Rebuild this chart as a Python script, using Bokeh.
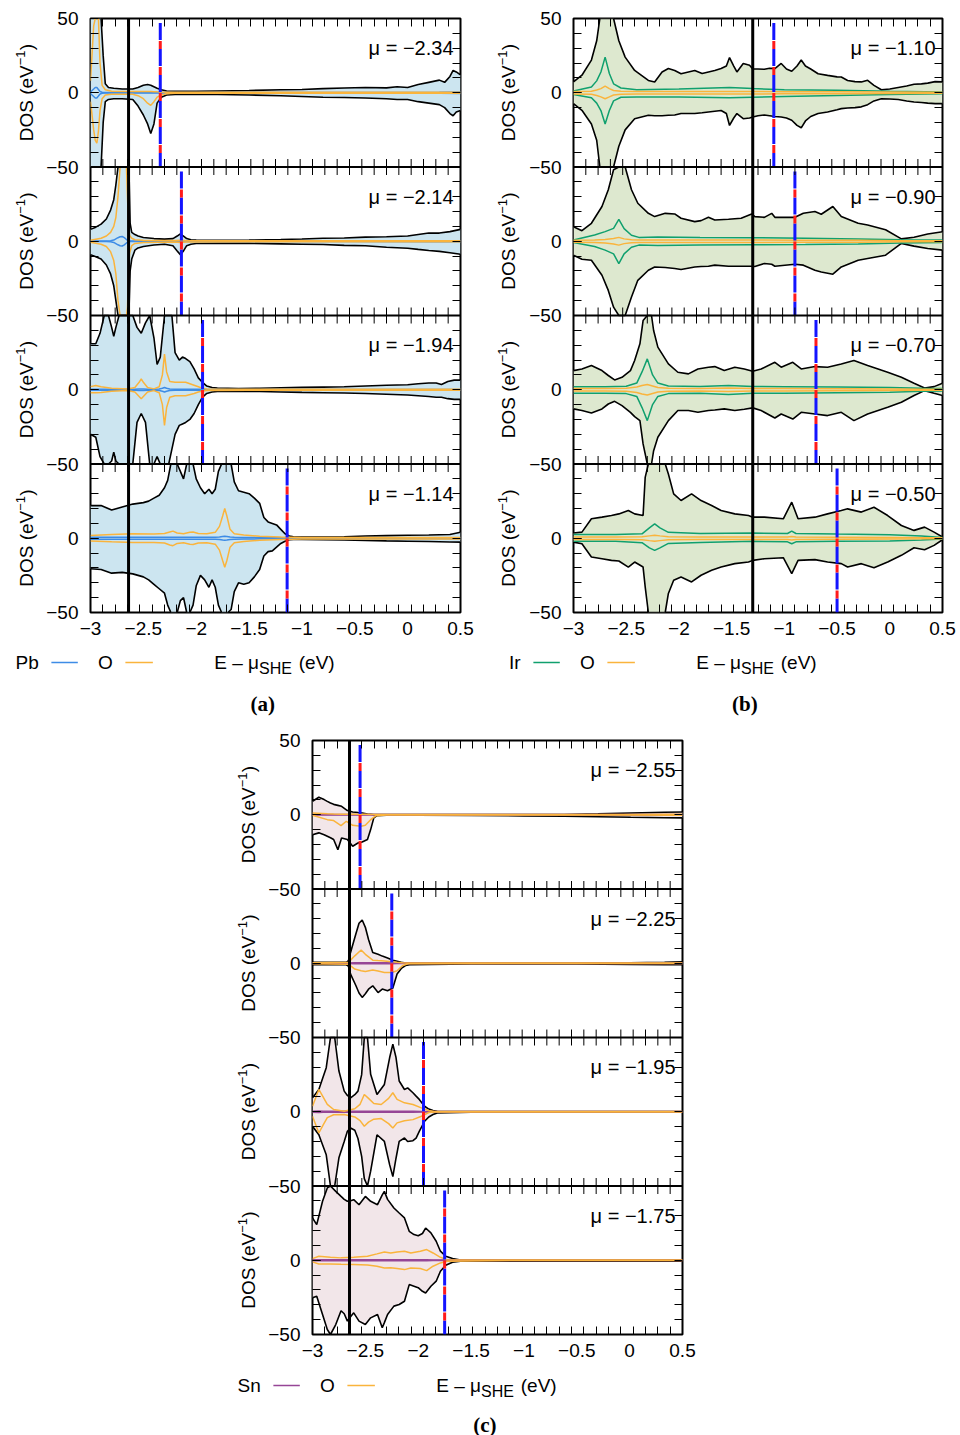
import numpy as np
from math import pi
from bokeh.plotting import figure
from bokeh.models import Range1d, LinearAxis, FixedTicker, Label, Span, Spacer
from bokeh.layouts import row, column
from bokeh.core.properties import value
from bokeh.embed import file_html
from bokeh.resources import INLINE

# ============================ DATA ============================
X_TICKS = [-3.0, -2.5, -2.0, -1.5, -1.0, -0.5, 0.0, 0.5]
X_TICK_LABELS = ["−3", "−2.5", "−2", "−1.5", "−1", "−0.5", "0", "0.5"]

MU_A = [-2.34, -2.14, -1.94, -1.14]
MU_B = [-1.10, -0.90, -0.70, -0.50]
MU_C = [-2.55, -2.25, -1.95, -1.75]
VLINE_A = -2.64
VLINE_B = -1.30
VLINE_C = -2.65

# ---------- (a) Pb ----------
A1_TX = [-3.00, -2.96, -2.92, -2.90, -2.88, -2.86, -2.83, -2.78, -2.70, -2.60, -2.55, -2.50, -2.46, -2.43, -2.40, -2.37, -2.33, -2.28, -2.20, -2.00, -1.80, -1.50, -1.20, -1.00, -0.80, -0.60, -0.40, -0.20, -0.10, 0.00, 0.10, 0.20, 0.30, 0.35, 0.40, 0.43, 0.46, 0.50]
A1_TUP = [60, 60, 60, 60, 25, 6, 3.5, 3, 2.5, 2.5, 3.5, 5, 5.5, 5, 4, 3, 2, 1.2, 1, 1, 1.2, 1.5, 2, 2.2, 2.8, 3.2, 3.5, 3.3, 4, 3.5, 5.5, 7, 8.5, 7, 11, 15, 14, 12]
A1_TDN = [60, 60, 60, 55, 20, 6, 4.5, 4, 4, 4.5, 9, 15, 21, 27.5, 21, 7, 3, 1.5, 1.2, 1, 1.2, 1.5, 2, 2.5, 3, 3.2, 3.5, 4, 4.5, 4.5, 6, 7, 8, 10, 14, 15.5, 13, 12]
A1_PX = [-3.00, -2.99, -2.97, -2.955, -2.94, -2.925, -2.91, -2.89, -2.86, -2.80, -2.60, -2.55, -2.50, -2.46, -2.43, -2.40, -2.37, -2.33, -2.28, -2.20, -1.50, -0.50, 0.30, 0.50]
A1_EUP = [0.5, 1.2, 2.5, 3.5, 3.5, 2.2, 0.8, 0.3, 0.2, 0.2, 0.2, 0.2, 0.2, 0.2, 0.2, 0.2, 0.2, 0.2, 0.2, 0.2, 0.2, 0.2, 0.3, 0.5]
A1_EDN = [0.5, 1.2, 2.5, 3.5, 3.5, 2.2, 0.8, 0.3, 0.2, 0.2, 0.2, 0.2, 0.2, 0.2, 0.2, 0.2, 0.2, 0.2, 0.2, 0.2, 0.2, 0.2, 0.3, 0.5]
A1_OUP = [8, 20, 45, 70, 75, 55, 20, 5, 2, 1, 0.8, 0.8, 0.8, 0.8, 0.8, 0.7, 0.6, 0.5, 0.4, 0.3, 0.3, 0.3, 0.3, 0.3]
A1_ODN = [6, 12, 25, 32, 34, 26, 12, 4, 1.5, 1, 1, 2, 4, 7, 8.5, 6, 3, 1.5, 0.7, 0.4, 0.3, 0.3, 0.3, 0.3]

A2_TX = [-3.00, -2.95, -2.90, -2.85, -2.81, -2.78, -2.76, -2.74, -2.72, -2.70, -2.68, -2.66, -2.645, -2.635, -2.625, -2.61, -2.58, -2.55, -2.50, -2.40, -2.30, -2.22, -2.18, -2.15, -2.12, -2.09, -2.05, -2.00, -1.80, -1.50, -1.20, -1.00, -0.80, -0.60, -0.40, -0.20, 0.00, 0.10, 0.20, 0.30, 0.40, 0.50]
A2_TUP = [8, 9.5, 11.5, 15, 21, 28, 38, 52, 70, 80, 80, 70, 60, 45, 12, 6, 4.5, 3.5, 2.5, 1.8, 1.4, 1.8, 3.5, 5, 3.5, 1.8, 1, 0.8, 0.7, 0.8, 1.2, 1.5, 2, 2.2, 2.8, 3, 3.5, 4.5, 5.5, 5.5, 6.5, 8]
A2_TDN = [9, 10.5, 12, 16, 22, 30, 40, 55, 70, 80, 80, 70, 60, 45, 20, 12, 6, 4.5, 3.5, 2.5, 2, 3, 6.5, 9, 6.5, 3, 2, 1.5, 1.4, 1.4, 1.8, 2, 2.2, 2.8, 3, 4, 4.7, 5.5, 6.2, 6.8, 7.7, 8.8]
A2_PX = [-3.00, -2.90, -2.85, -2.81, -2.78, -2.76, -2.74, -2.72, -2.70, -2.68, -2.66, -2.65, -2.64, -2.63, -2.61, -2.58, -2.50, -2.20, -2.15, -2.10, -1.50, -0.50, 0.30, 0.50]
A2_EUP = [0.2, 0.2, 0.2, 0.3, 0.8, 1.6, 2.4, 3, 3.2, 2.4, 1.2, 0.6, 0.3, 0.2, 0.2, 0.2, 0.2, 0.2, 0.3, 0.2, 0.2, 0.2, 0.3, 0.4]
A2_EDN = [0.2, 0.2, 0.2, 0.3, 0.8, 1.6, 2.4, 3, 3.2, 2.4, 1.2, 0.6, 0.3, 0.2, 0.2, 0.2, 0.2, 0.2, 0.3, 0.2, 0.2, 0.2, 0.3, 0.4]
A2_OUP = [0.7, 2, 3.5, 6, 10, 16, 30, 60, 80, 80, 60, 30, 10, 4, 2, 1, 0.6, 0.5, 0.7, 0.5, 0.4, 0.4, 0.4, 0.4]
A2_ODN = [0.7, 2, 3.5, 7, 13, 22, 40, 60, 80, 80, 70, 45, 20, 8, 3, 1.5, 0.8, 0.5, 0.8, 0.5, 0.4, 0.4, 0.4, 0.4]

A3_TX = [-3.00, -2.95, -2.91, -2.87, -2.83, -2.80, -2.78, -2.76, -2.73, -2.69, -2.64, -2.60, -2.56, -2.52, -2.48, -2.44, -2.40, -2.37, -2.34, -2.30, -2.26, -2.23, -2.20, -2.16, -2.13, -2.10, -2.06, -2.02, -1.98, -1.94, -1.90, -1.85, -1.80, -1.60, -1.40, -1.20, -1.00, -0.80, -0.60, -0.40, -0.20, 0.00, 0.10, 0.20, 0.27, 0.32, 0.38, 0.44, 0.50]
A3_TUP = [31, 31, 38, 60, 60, 42, 36, 42, 60, 80, 80, 60, 42, 38, 45, 60, 35, 17, 22, 55, 60, 50, 25, 20, 22, 21, 19, 14, 8, 5, 2.5, 1.5, 1.2, 0.8, 1, 1.3, 1.6, 1.8, 2, 2.5, 3, 3.4, 4, 4.5, 4.5, 3.5, 5.5, 6.5, 6.5]
A3_TDN = [30, 32, 45, 60, 60, 48, 42, 48, 60, 80, 80, 60, 22, 16, 22, 60, 60, 45, 50, 60, 60, 40, 30, 24, 23, 22, 20, 16, 10, 5, 2.5, 1.5, 1.2, 1, 1.2, 1.5, 1.8, 2, 2.2, 2.5, 3, 3.5, 4, 4.5, 5, 5, 6, 6.5, 6.5]
A3_PX = [-3.00, -2.95, -2.90, -2.80, -2.65, -2.58, -2.54, -2.52, -2.50, -2.46, -2.40, -2.35, -2.32, -2.30, -2.28, -2.25, -2.20, -2.10, -2.02, -1.98, -1.94, -1.90, -1.50, -0.50, 0.50]
A3_EUP = [0.4, 0.4, 0.4, 0.4, 0.4, 0.4, 0.5, 0.5, 0.5, 0.4, 0.4, 0.5, 1, 1.5, 1, 0.5, 0.4, 0.4, 0.4, 0.3, 0.3, 0.2, 0.2, 0.2, 0.2]
A3_EDN = [0.4, 0.4, 0.4, 0.4, 0.4, 0.4, 0.5, 0.5, 0.5, 0.4, 0.4, 0.5, 1, 1.5, 1, 0.5, 0.4, 0.4, 0.4, 0.3, 0.3, 0.2, 0.2, 0.2, 0.2]
A3_OUP = [2.1, 2.8, 2, 1, 0.5, 1.5, 5, 7.3, 5, 1.5, 0.6, 2, 10, 24, 12, 5.5, 5, 5, 3, 2, 1, 0.5, 0.4, 0.4, 0.4]
A3_ODN = [2, 2, 1.8, 1, 0.5, 1.5, 4.5, 6, 4.5, 1.5, 0.6, 2, 10, 24, 12, 5, 4, 4, 2.5, 1.5, 0.8, 0.5, 0.4, 0.4, 0.4]

A4_TX = [-3.00, -2.90, -2.80, -2.70, -2.60, -2.50, -2.45, -2.40, -2.35, -2.30, -2.27, -2.24, -2.21, -2.18, -2.15, -2.12, -2.09, -2.06, -2.03, -2.00, -1.96, -1.92, -1.88, -1.85, -1.82, -1.79, -1.76, -1.73, -1.70, -1.67, -1.64, -1.60, -1.55, -1.50, -1.45, -1.40, -1.36, -1.32, -1.28, -1.24, -1.20, -1.16, -1.12, -1.08, -1.00, -0.80, -0.60, -0.40, -0.20, 0.00, 0.20, 0.40, 0.50]
A4_TUP = [22, 22, 19, 21, 23, 24, 25, 27, 29, 34, 39, 50, 60, 55, 45, 40, 55, 60, 50, 40, 34, 30, 33, 30, 33, 45, 60, 70, 60, 50, 38, 32, 31, 30, 27, 23.5, 14, 11, 10, 9, 6, 3, 1.5, 1, 0.8, 0.8, 1, 1.5, 1.8, 2, 2.2, 2.5, 4]
A4_TDN = [20.5, 21, 23.5, 23, 24, 26, 28, 31, 34, 37, 45, 55, 60, 50, 42, 40, 55, 60, 45, 32, 25, 28, 33, 28, 33, 45, 60, 70, 60, 48, 36, 30, 31, 30, 26, 21, 12, 9, 8.5, 6, 3.5, 2, 1, 0.8, 0.8, 1, 1.2, 1.5, 1.8, 2, 2.2, 2.5, 2.6]
A4_PX = [-3.00, -2.80, -2.60, -2.40, -2.30, -2.25, -2.22, -2.18, -2.12, -2.06, -2.03, -1.98, -1.90, -1.82, -1.78, -1.75, -1.73, -1.71, -1.68, -1.64, -1.55, -1.40, -1.20, -1.00, 0.00, 0.50]
A4_EUP = [0.6, 0.6, 0.6, 0.6, 0.6, 0.6, 0.6, 0.6, 0.6, 0.6, 0.6, 0.6, 0.6, 0.6, 0.8, 1.2, 1.4, 1.2, 0.8, 0.6, 0.5, 0.4, 0.3, 0.2, 0.2, 0.3]
A4_EDN = [0.6, 0.6, 0.6, 0.6, 0.6, 0.6, 0.6, 0.6, 0.6, 0.6, 0.6, 0.6, 0.6, 0.6, 0.8, 1.2, 1.4, 1.2, 0.8, 0.6, 0.5, 0.4, 0.3, 0.2, 0.2, 0.3]
A4_OUP = [1.9, 2.6, 3, 2.8, 3.2, 4.2, 4.8, 3.5, 3, 4, 4.2, 3.2, 3, 4, 8, 15, 20, 15, 6, 3, 2.2, 1.3, 0.8, 0.5, 0.5, 0.5]
A4_ODN = [1.9, 2.4, 2.8, 2.8, 3.2, 4.5, 5, 3.5, 3, 4, 4.2, 3.2, 3, 4, 8, 15, 19.5, 15, 6, 3, 2.2, 1.3, 0.8, 0.5, 0.5, 0.5]

# ---------- (b) Ir ----------
B1_TX = [-3.00, -2.92, -2.83, -2.78, -2.75, -2.70, -2.62, -2.57, -2.51, -2.42, -2.29, -2.23, -2.16, -2.10, -2.04, -1.98, -1.91, -1.85, -1.78, -1.72, -1.66, -1.60, -1.55, -1.52, -1.48, -1.45, -1.39, -1.33, -1.30, -1.25, -1.19, -1.14, -1.09, -1.03, -0.98, -0.93, -0.88, -0.84, -0.80, -0.75, -0.68, -0.59, -0.50, -0.46, -0.40, -0.33, -0.27, -0.21, -0.15, -0.08, 0.00, 0.08, 0.16, 0.23, 0.30, 0.36, 0.43, 0.50]
B1_TUP = [7.3, 11.8, 22, 35, 55, 80, 50, 35, 24, 15, 8.3, 7.3, 14, 16.3, 15, 12.8, 14, 15, 13, 14, 15, 16.3, 18, 23.7, 18, 14, 19.7, 18.5, 16, 16, 15.8, 16.5, 16.3, 19.7, 16, 14.5, 18, 22, 18, 16, 12.8, 11.7, 10.7, 10.6, 8.3, 7.5, 7.3, 8.4, 5, 2, 2.5, 3.5, 4.5, 5.7, 6, 6.5, 7.5, 7.3]
B1_TDN = [7.3, 11.8, 21, 32, 55, 80, 55, 36, 25, 17.5, 15.2, 15.5, 15.5, 15.2, 15, 14, 14, 14, 13.5, 13, 12.5, 12, 14, 22, 17, 14, 17.5, 17, 16.3, 15.5, 15, 15.5, 16, 16.3, 17, 18.5, 22, 23.6, 19, 16, 14, 13, 11.5, 10.7, 10.3, 10, 9.5, 8, 5.5, 4, 4.2, 4.5, 5.5, 6.2, 6.6, 7, 7.3, 7.3]
B1_PX = [-3.00, -2.83, -2.78, -2.74, -2.70, -2.66, -2.62, -2.55, -2.40, -2.00, -1.52, -1.30, -1.00, -0.50, 0.00, 0.50]
B1_EUP = [1.2, 3.9, 8, 14, 24, 13, 6, 3.2, 2.1, 2.5, 3.5, 2.8, 2.1, 1.6, 1, 0.5]
B1_EDN = [1.2, 3.4, 7, 12, 21, 12, 5.5, 3, 2.8, 2.8, 3.4, 3, 2.5, 1.8, 1.2, 0.6]
B1_OUP = [0.8, 1, 1.8, 2.8, 4.4, 2.8, 1.5, 1, 0.8, 0.8, 0.9, 0.8, 0.7, 0.6, 0.5, 0.4]
B1_ODN = [0.8, 1, 1.8, 2.8, 4, 2.8, 1.5, 1, 0.8, 0.8, 0.9, 0.8, 0.7, 0.6, 0.5, 0.4]

B2_TX = [-3.00, -2.92, -2.83, -2.73, -2.67, -2.62, -2.57, -2.51, -2.45, -2.39, -2.29, -2.23, -2.13, -2.04, -1.98, -1.85, -1.79, -1.72, -1.66, -1.53, -1.41, -1.31, -1.28, -1.19, -1.12, -1.09, -0.90, -0.82, -0.71, -0.65, -0.54, -0.46, -0.30, -0.21, -0.04, 0.11, 0.23, 0.36, 0.50]
B2_TUP = [9.8, 7.1, 12.1, 23.4, 34.7, 48.2, 70, 60, 34.7, 25.6, 18.8, 16.6, 18.8, 18.4, 15.5, 13.2, 13.9, 16.1, 14.3, 14.8, 15.5, 18.4, 16.6, 16.1, 18.8, 16.1, 16.1, 18.8, 20, 18.2, 23.4, 16.6, 12.1, 11, 7.7, 1.6, 2.7, 4.9, 6.4]
B2_TDN = [9.4, 12.1, 12.8, 22.9, 33.1, 44.4, 70, 60, 37.6, 26.3, 19.5, 17.3, 17.7, 18.4, 19, 17.3, 17, 16.8, 16.1, 16.8, 16.8, 16.8, 17, 15, 15.5, 16.8, 15.5, 16.1, 19.5, 20.7, 22.2, 17.3, 12.8, 11.6, 9.4, 1.5, 3.3, 4.9, 6]
B2_PX = [-3.00, -2.80, -2.70, -2.62, -2.57, -2.52, -2.45, -2.38, -2.20, -1.80, -1.30, -0.80, -0.30, 0.10, 0.50]
B2_EUP = [0.8, 4.2, 6.5, 8.7, 14.7, 8.5, 4, 2.6, 2.8, 2.6, 2.4, 2, 1.5, 1, 0.8]
B2_EDN = [0.8, 3.5, 6, 8.5, 15, 8.5, 4, 2.6, 2.8, 2.6, 2.4, 2.2, 1.8, 1.2, 0.8]
B2_OUP = [0.6, 0.8, 1.2, 1.8, 2.6, 1.6, 1, 0.8, 0.8, 0.8, 0.8, 0.7, 0.6, 0.4, 0.4]
B2_ODN = [0.6, 0.8, 1.2, 1.8, 2.6, 1.6, 1, 0.8, 0.8, 0.8, 0.8, 0.7, 0.6, 0.4, 0.4]

B3_TX = [-3.00, -2.92, -2.83, -2.73, -2.67, -2.61, -2.54, -2.46, -2.42, -2.37, -2.34, -2.30, -2.26, -2.24, -2.20, -2.10, -2.01, -1.91, -1.82, -1.72, -1.66, -1.57, -1.47, -1.38, -1.30, -1.22, -1.09, -1.03, -0.92, -0.84, -0.71, -0.59, -0.46, -0.34, -0.21, -0.02, 0.11, 0.23, 0.33, 0.42, 0.50]
B3_TUP = [12.9, 14, 16.3, 12.9, 9.6, 6.6, 8.4, 12.9, 19.7, 30.9, 46.6, 70, 60, 39.9, 28.7, 17.4, 11.8, 10.7, 14, 15.2, 15.6, 12.9, 15.2, 14, 12.5, 14, 18.5, 15.2, 18.5, 14, 15.6, 15.2, 17.4, 19.7, 16.3, 11.8, 8.4, 4.4, 1.2, 2.1, 4.4]
B3_TDN = [12.9, 14, 15.6, 12.9, 9.6, 7.8, 10.7, 15.2, 18.1, 20.8, 36.5, 70, 60, 41, 32, 20.8, 14, 14, 15.2, 14, 13.6, 12.9, 14, 13.1, 12.2, 14, 19, 16.3, 19.7, 15.2, 16.3, 17.4, 15.2, 20.8, 16.3, 11.8, 8.4, 3.9, 0.6, 2.4, 3.9]
B3_PX = [-3.00, -2.70, -2.50, -2.40, -2.35, -2.30, -2.25, -2.20, -2.10, -1.80, -1.53, -1.30, -1.00, -0.50, 0.00, 0.30, 0.50]
B3_EUP = [2.1, 2.1, 2.3, 4.5, 12, 20.8, 10, 4.5, 2.5, 2.2, 2.8, 2.2, 2.1, 1.8, 1.5, 1, 0.8]
B3_EDN = [2.4, 2.4, 2.6, 4.5, 12, 20.8, 10, 4.5, 2.6, 2.4, 3.2, 2.4, 2.3, 2, 1.6, 1, 0.8]
B3_OUP = [0.8, 0.8, 1, 1.8, 2.8, 3.5, 2.5, 1.5, 1, 0.9, 1.2, 0.8, 0.8, 0.7, 0.5, 0.4, 0.4]
B3_ODN = [0.8, 0.8, 1, 1.8, 2.8, 3.5, 2.5, 1.5, 1, 0.9, 1.2, 0.8, 0.8, 0.7, 0.5, 0.4, 0.4]

B4_TX = [-3.00, -2.92, -2.83, -2.73, -2.64, -2.57, -2.48, -2.42, -2.34, -2.32, -2.29, -2.23, -2.13, -2.10, -2.05, -1.98, -1.88, -1.79, -1.69, -1.60, -1.47, -1.34, -1.30, -1.19, -1.01, -0.93, -0.87, -0.71, -0.59, -0.46, -0.40, -0.27, -0.15, -0.02, 0.11, 0.23, 0.33, 0.42, 0.50]
B4_TUP = [3.5, 4.1, 13.1, 14.2, 15.3, 16.4, 18.7, 16.4, 15.3, 41, 60, 80, 60, 43.3, 29.9, 25.4, 29.9, 25.4, 22, 18.7, 16.4, 15.3, 14.2, 14.2, 13.1, 24.3, 13.1, 14.2, 16.4, 18.7, 19.8, 17.6, 20.9, 15.3, 8.6, 5.3, 7.5, 4.1, 0.8]
B4_TDN = [2.6, 3.7, 12.6, 13.8, 14.9, 15.3, 19.4, 16, 19.4, 32.8, 60, 80, 60, 37.2, 28.3, 26.1, 29.4, 24.9, 21.6, 19.4, 17.1, 16, 14.9, 13.8, 13.1, 23.8, 14.9, 14.4, 16, 17.1, 19.4, 17.1, 19.8, 16, 11.5, 6.4, 7.7, 4.8, 1]
B4_PX = [-3.00, -2.60, -2.35, -2.28, -2.23, -2.18, -2.10, -1.80, -1.30, -0.97, -0.93, -0.89, -0.50, 0.00, 0.30, 0.50]
B4_EUP = [2.6, 2.6, 3, 7, 9.7, 7, 4, 3.2, 3.5, 3.2, 4.8, 3.2, 2.8, 2.4, 1.5, 0.5]
B4_EDN = [2.1, 2.1, 3, 6.5, 8.2, 6.5, 3.5, 2.8, 2.1, 2.4, 3.7, 2.4, 2.1, 1.8, 1.2, 0.5]
B4_OUP = [0.8, 0.8, 1, 1.6, 2, 1.6, 1, 0.8, 0.8, 0.8, 1.2, 0.8, 0.7, 0.5, 0.4, 0.3]
B4_ODN = [0.8, 0.8, 1, 1.6, 2, 1.6, 1, 0.8, 0.8, 0.8, 1.2, 0.8, 0.7, 0.5, 0.4, 0.3]

# ---------- (c) Sn ----------
C1_TX = [-3.00, -2.94, -2.89, -2.86, -2.83, -2.80, -2.76, -2.725, -2.67, -2.62, -2.57, -2.53, -2.48, -2.45, -2.42, -2.39, -2.30, -2.00, -1.50, -1.00, -0.62, -0.30, 0.01, 0.33, 0.50]
C1_TUP = [9.1, 11.8, 10.2, 9, 7.9, 7, 6.3, 5.7, 2.8, 1.9, 1.5, 1.2, 0.5, 0.3, 0.1, 0.1, 0.1, 0.1, 0.1, 0.1, 0.2, 0.6, 1.2, 1.7, 1.9]
C1_TDN = [13.4, 12.2, 13.5, 14.5, 15.5, 16.7, 23.5, 15.6, 16.7, 21.2, 19, 18.3, 16.7, 10, 2.1, 0.6, 0.3, 0.3, 0.5, 0.8, 1, 1.3, 1.7, 2, 2.1]
C1_PX = [-3.00, -2.86, -2.80, -2.73, -2.68, -2.62, -2.54, -2.50, -2.45, -2.40, -2.30, -1.00, 0.00, 0.50]
C1_EUP = [0.2, 0.2, 0.2, 0.2, 0.2, 0.2, 0.2, 0.2, 0.1, 0.1, 0.1, 0.1, 0.1, 0.1]
C1_EDN = [0.2, 0.2, 0.2, 0.2, 0.2, 0.2, 0.2, 0.2, 0.1, 0.1, 0.1, 0.1, 0.1, 0.1]
C1_OUP = [1.2, 0.7, 0.5, 0.4, 0.3, 0.3, 0.3, 0.3, 0.2, 0.1, 0.1, 0.1, 0.2, 0.3]
C1_ODN = [0.3, 3.3, 3.9, 7.3, 4.4, 7.1, 7.8, 7.1, 3.3, 0.6, 0.2, 0.1, 0.2, 0.3]

C2_TX = [-3.00, -2.80, -2.68, -2.66, -2.64, -2.59, -2.56, -2.53, -2.50, -2.47, -2.43, -2.38, -2.34, -2.29, -2.24, -2.20, -2.16, -2.12, -2.08, -1.50, -0.50, 0.00, 0.33, 0.50]
C2_TUP = [0.6, 0.6, 0.6, 1.7, 7.3, 19.7, 26.9, 29.1, 24.2, 16, 7.3, 6, 4.8, 3.5, 2, 1.3, 0.6, 0.2, 0.1, 0.1, 0.1, 0.3, 0.6, 1]
C2_TDN = [1, 1, 1, 2, 7.3, 15, 20, 23, 20.5, 17.5, 15.2, 19.7, 17.4, 18.5, 16.7, 7.3, 3.5, 1.5, 1, 0.5, 0.5, 0.8, 1, 1]
C2_PX = [-3.00, -2.66, -2.60, -2.54, -2.50, -2.43, -2.38, -2.32, -2.25, -2.20, -2.15, -2.10, -1.00, 0.50]
C2_EUP = [0.1, 0.1, 0.3, 0.3, 0.3, 0.3, 0.3, 0.3, 0.3, 0.2, 0.1, 0.1, 0.1, 0.1]
C2_EDN = [0.1, 0.1, 0.3, 0.3, 0.3, 0.3, 0.3, 0.3, 0.3, 0.2, 0.1, 0.1, 0.1, 0.1]
C2_OUP = [0.3, 0.6, 5, 8.9, 6, 2.1, 1.8, 1.5, 1, 0.6, 0.3, 0.1, 0.1, 0.2]
C2_ODN = [0.3, 0.6, 3.9, 5, 5.5, 4.6, 5.2, 6.2, 6.2, 5, 1.7, 0.3, 0.1, 0.2]

C3_TX = [-3.00, -2.94, -2.87, -2.83, -2.79, -2.75, -2.70, -2.67, -2.64, -2.60, -2.57, -2.535, -2.51, -2.48, -2.45, -2.39, -2.32, -2.27, -2.24, -2.21, -2.18, -2.13, -2.10, -2.05, -2.02, -1.99, -1.94, -1.90, -1.86, -1.82, -1.50, -1.00, 0.00, 0.50]
C3_TUP = [9.4, 15, 29.7, 60, 70, 27.4, 13.9, 11, 9.4, 11.5, 13.9, 25, 60, 60, 25.2, 11.6, 18.4, 36.5, 45.5, 36.5, 20.7, 15, 16.1, 12.8, 10.5, 8.3, 3.7, 1.8, 0.8, 0.3, 0.1, 0.1, 0.1, 0.2]
C3_TDN = [9.8, 15.5, 29, 60, 70, 31, 20, 13.2, 10.9, 12.5, 18, 30, 45, 60, 40, 15.5, 20, 35.8, 43.7, 31.3, 20, 17.7, 20, 19.5, 17.7, 13.2, 6.4, 3.5, 1.9, 0.8, 0.3, 0.3, 0.3, 0.3]
C3_PX = [-3.00, -2.94, -2.90, -2.86, -2.80, -2.70, -2.60, -2.55, -2.51, -2.47, -2.42, -2.35, -2.28, -2.24, -2.20, -2.13, -2.05, -1.97, -1.90, -1.85, -1.00, 0.50]
C3_EUP = [0.3, 0.5, 0.4, 0.3, 0.3, 0.3, 0.3, 0.3, 0.4, 0.3, 0.3, 0.3, 0.3, 0.4, 0.3, 0.3, 0.3, 0.2, 0.1, 0.1, 0.1, 0.1]
C3_EDN = [0.3, 0.5, 0.4, 0.3, 0.3, 0.3, 0.3, 0.3, 0.4, 0.3, 0.3, 0.3, 0.3, 0.4, 0.3, 0.3, 0.3, 0.2, 0.1, 0.1, 0.1, 0.1]
C3_OUP = [3.7, 15, 10, 5, 1.5, 0.3, 2, 5, 11.6, 9, 5.5, 4.9, 9, 12.8, 8.3, 6, 4.9, 2.6, 0.8, 0.1, 0.1, 0.1]
C3_ODN = [3, 14.3, 9, 4, 2, 1.9, 3.5, 6, 9.8, 7, 5, 4.6, 8, 10.9, 7.5, 6, 5.3, 3, 0.5, 0.1, 0.1, 0.1]

C4_TX = [-3.00, -2.96, -2.905, -2.86, -2.83, -2.78, -2.73, -2.70, -2.67, -2.64, -2.61, -2.56, -2.50, -2.45, -2.385, -2.34, -2.32, -2.29, -2.23, -2.18, -2.13, -2.085, -2.04, -2.00, -1.96, -1.93, -1.88, -1.83, -1.79, -1.74, -1.675, -1.60, -1.00, 0.00, 0.50]
C4_TUP = [28.5, 24, 39.7, 48.7, 55, 46.4, 43, 41, 39.7, 40, 40.8, 37.4, 43, 39.7, 37.4, 44, 46.4, 41, 35.2, 31.8, 28.5, 19.5, 17.3, 16.5, 18, 21.7, 18.4, 12.8, 6.1, 2.7, 1.1, 0.2, 0.2, 0.2, 0.3]
C4_TDN = [25.3, 24.2, 36.5, 46.6, 55, 43.3, 34, 36, 41, 38, 35.4, 41, 43.3, 38.8, 36.5, 45.5, 42, 36.5, 30.9, 29.8, 27.6, 16.4, 17.5, 18.5, 20.9, 22, 17.5, 14.1, 7.4, 3.4, 1.3, 0.7, 0.7, 0.7, 0.7]
C4_PX = [-3.00, -2.94, -2.83, -2.73, -2.61, -2.48, -2.39, -2.32, -2.26, -2.20, -2.13, -2.07, -1.98, -1.92, -1.86, -1.79, -1.73, -1.00, 0.50]
C4_EUP = [0.3, 0.3, 0.3, 0.3, 0.3, 0.3, 0.3, 0.3, 0.3, 0.3, 0.3, 0.3, 0.3, 0.3, 0.2, 0.2, 0.1, 0.1, 0.1]
C4_EDN = [0.3, 0.3, 0.3, 0.3, 0.3, 0.3, 0.3, 0.3, 0.3, 0.3, 0.3, 0.3, 0.3, 0.3, 0.2, 0.2, 0.1, 0.1, 0.1]
C4_OUP = [1.1, 2.7, 2, 1.6, 2, 2.7, 4.3, 5.6, 4.9, 5.6, 6.1, 4.9, 6.1, 7.2, 4.9, 2, 0.4, 0.1, 0.2]
C4_ODN = [1.1, 2.5, 2.5, 2.7, 2.9, 3.2, 4, 5.2, 5, 5.6, 6.3, 5.2, 5.6, 7, 4, 1.8, 0.7, 0.1, 0.2]

# ============================ STYLE / LAYOUT ============================
FONT = "Liberation Sans"
FS = "19px"
FRAME_W, FRAME_H = 370, 594
PPU = FRAME_W / 3.5               # pixels per eV
UPP = 400.0 / FRAME_H             # vertical data units per pixel
O_COLOR = "#fab43c"
BLUE, RED = "#1414ff", "#ff1a1a"
XGRID = [round(-3 + k * 3.5 / 30, 5) for k in range(1, 30)]


def panel(tx, tup, tdn, px, eup, edn, oup, odn):
    return dict(tx=tx, tup=tup, tdn=tdn, px=px, eup=eup, edn=edn, oup=oup, odn=odn)


GROUPS = {
    "a": dict(el="Pb", el_color="#3d8ce6", fill="#cce5f0", mus=MU_A, vline=VLINE_A,
              panels=[panel(A1_TX, A1_TUP, A1_TDN, A1_PX, A1_EUP, A1_EDN, A1_OUP, A1_ODN),
                      panel(A2_TX, A2_TUP, A2_TDN, A2_PX, A2_EUP, A2_EDN, A2_OUP, A2_ODN),
                      panel(A3_TX, A3_TUP, A3_TDN, A3_PX, A3_EUP, A3_EDN, A3_OUP, A3_ODN),
                      panel(A4_TX, A4_TUP, A4_TDN, A4_PX, A4_EUP, A4_EDN, A4_OUP, A4_ODN)]),
    "b": dict(el="Ir", el_color="#10a06e", fill="#dde8cf", mus=MU_B, vline=VLINE_B,
              panels=[panel(B1_TX, B1_TUP, B1_TDN, B1_PX, B1_EUP, B1_EDN, B1_OUP, B1_ODN),
                      panel(B2_TX, B2_TUP, B2_TDN, B2_PX, B2_EUP, B2_EDN, B2_OUP, B2_ODN),
                      panel(B3_TX, B3_TUP, B3_TDN, B3_PX, B3_EUP, B3_EDN, B3_OUP, B3_ODN),
                      panel(B4_TX, B4_TUP, B4_TDN, B4_PX, B4_EUP, B4_EDN, B4_OUP, B4_ODN)]),
    "c": dict(el="Sn", el_color="#964696", fill="#f2e6e9", mus=MU_C, vline=VLINE_C,
              panels=[panel(C1_TX, C1_TUP, C1_TDN, C1_PX, C1_EUP, C1_EDN, C1_OUP, C1_ODN),
                      panel(C2_TX, C2_TUP, C2_TDN, C2_PX, C2_EUP, C2_EDN, C2_OUP, C2_ODN),
                      panel(C3_TX, C3_TUP, C3_TDN, C3_PX, C3_EUP, C3_EDN, C3_OUP, C3_ODN),
                      panel(C4_TX, C4_TUP, C4_TDN, C4_PX, C4_EUP, C4_EDN, C4_OUP, C4_ODN)]),
}


def up(v):
    return np.clip(np.asarray(v, dtype=float), 0, 50)


def dn(v):
    return -np.clip(np.asarray(v, dtype=float), 0, 50)


def bare_fig(width, height, xr, yr, top=0, bottom=0):
    return figure(width=width, height=height, x_range=xr, y_range=yr,
                  x_axis_type=None, y_axis_type=None, output_backend="svg", toolbar_location=None,
                  min_border_left=0, min_border_right=0, min_border_top=top, min_border_bottom=bottom,
                  outline_line_color=None, background_fill_color="white", border_fill_color="white")


def put_text(f, x, y, text, align="left", size=FS, font=FONT, style="normal", angle=0.0, color="black"):
    f.text(x=[x], y=[y], text=[text], angle=angle, text_align=align, text_baseline="middle",
           text_font=value(font), text_font_size=value(size), text_font_style=style,
           text_color=color)


def main_fig(key, left, right, top, bottom):
    g = GROUPS[key]
    p = figure(width=left + FRAME_W + right, height=top + FRAME_H + bottom,
               x_range=Range1d(-3, 0.5), y_range=Range1d(-350, 50),
               x_axis_type=None, y_axis_type=None,
               output_backend="svg", toolbar_location=None,
               min_border_left=left, min_border_right=right,
               min_border_top=top, min_border_bottom=bottom,
               outline_line_color="black", outline_line_width=2,
               background_fill_color="white", border_fill_color="white")
    p.extra_y_ranges = {f"p{k}": Range1d(-350 + 100 * k, 50 + 100 * k) for k in range(1, 4)}

    ylab_pos = [50, 0, -50, -100, -150, -200, -250, -300, -350]
    ylab_txt = ["50", "0", "−50", "0", "−50", "0", "−50", "0", "−50"]
    yminor = list(range(-350, 51, 10))
    p.add_layout(LinearAxis(ticker=FixedTicker(ticks=ylab_pos, minor_ticks=yminor),
                            major_label_overrides=dict(zip(ylab_pos, ylab_txt)),
                            major_tick_in=8, major_tick_out=0, minor_tick_in=8, minor_tick_out=0,
                            major_tick_line_color="black", minor_tick_line_color="black",
                            axis_line_color=None, major_label_standoff=12,
                            major_label_text_font=FONT, major_label_text_font_size=FS,
                            major_label_text_color="black"), "left")
    p.add_layout(LinearAxis(ticker=FixedTicker(ticks=[], minor_ticks=yminor),
                            minor_tick_in=8, minor_tick_out=0, major_tick_in=0, major_tick_out=0,
                            minor_tick_line_color="black", axis_line_color=None,
                            major_label_standoff=0, major_label_text_font_size="1px"), "right")
    p.add_layout(LinearAxis(ticker=FixedTicker(ticks=[], minor_ticks=XGRID),
                            minor_tick_in=8, minor_tick_out=0, major_tick_in=0, major_tick_out=0,
                            minor_tick_line_color="black", axis_line_color=None,
                            major_label_standoff=0, major_label_text_font_size="1px"), "above")
    p.add_layout(LinearAxis(ticker=FixedTicker(ticks=X_TICKS, minor_ticks=XGRID),
                            major_label_overrides=dict(zip(X_TICKS, X_TICK_LABELS)),
                            minor_tick_in=8, minor_tick_out=0, major_tick_in=0, major_tick_out=0,
                            minor_tick_line_color="black", axis_line_color=None,
                            major_label_standoff=9, major_label_text_font=FONT,
                            major_label_text_font_size=FS, major_label_text_color="black"), "below")

    for k, d in enumerate(g["panels"]):
        rn = "default" if k == 0 else f"p{k}"
        p.varea(x=d["tx"], y1=dn(d["tdn"]), y2=up(d["tup"]), fill_color=g["fill"], y_range_name=rn)
        p.line(d["tx"], up(d["tup"]), line_color="black", line_width=1.6, y_range_name=rn)
        p.line(d["tx"], dn(d["tdn"]), line_color="black", line_width=1.6, y_range_name=rn)
        p.line(d["px"], up(d["eup"]), line_color=g["el_color"], line_width=1.5, y_range_name=rn)
        p.line(d["px"], dn(d["edn"]), line_color=g["el_color"], line_width=1.5, y_range_name=rn)
        p.line(d["px"], up(d["oup"]), line_color=O_COLOR, line_width=1.5, y_range_name=rn)
        p.line(d["px"], dn(d["odn"]), line_color=O_COLOR, line_width=1.5, y_range_name=rn)
        mu = g["mus"][k]
        p.line([mu, mu], [47, -50], line_color=BLUE, line_width=3, line_dash="17 9", y_range_name=rn)
        p.line([mu, mu], [47, -50], line_color=RED, line_width=3, line_dash="8 18",
               line_dash_offset=8, y_range_name=rn)
        p.add_layout(Label(x=0.434, y=30, text=f"μ = −{abs(mu):.2f}", text_align="right",
                           text_baseline="middle", text_font=FONT, text_font_size="20px",
                           text_color="black", y_range_name=rn))

    L = 8 * UPP
    for b in [-50, -150, -250]:
        p.add_layout(Span(location=b, dimension="width", line_color="black", line_width=2))
        p.segment(x0=XGRID, y0=[b - L] * len(XGRID), x1=XGRID, y1=[b + L] * len(XGRID),
                  line_color="black", line_width=1)
    p.add_layout(Span(location=g["vline"], dimension="height", line_color="black", line_width=3))
    return p


def ylabel_fig(width, height, top, bottom, frame_offset):
    f = bare_fig(width, height, Range1d(0, width), Range1d(-350, 50), top=top, bottom=bottom)
    xm = frame_offset - 64
    for yc in [0, -100, -200, -300]:
        s = yc - 48.5 * UPP
        put_text(f, xm, s, "DOS (eV", align="left", angle=pi / 2, size="19px")
        put_text(f, xm - 6, s + 76 * UPP, "−1", align="left", angle=pi / 2, size="13px")
        put_text(f, xm, s + 91 * UPP, ")", align="left", angle=pi / 2, size="19px")
    return f


def legend_fig(key, width, height, frame_offset, y_leg, y_tag):
    g = GROUPS[key]
    x0 = -3 - frame_offset / PPU
    f = bare_fig(width, height, Range1d(x0, x0 + width / PPU), Range1d(-height, 0))
    put_text(f, -3.49, y_leg, g["el"], align="right")
    f.line([-3.37, -3.12], [y_leg, y_leg], line_color=g["el_color"], line_width=1.5)
    put_text(f, -2.79, y_leg, "O", align="right")
    f.line([-2.67, -2.41], [y_leg, y_leg], line_color=O_COLOR, line_width=1.5)
    put_text(f, -1.406, y_leg, "E – μ", align="right")
    put_text(f, -1.406, y_leg - 5.5, "SHE", size="16px")
    put_text(f, -1.03, y_leg, "(eV)")
    put_text(f, -1.37, y_tag, f"({key})", align="center", size="21px",
             font="Liberation Serif", style="bold")
    return f


def group(key, ylab_w, left, right, top, bottom, leg_h, y_leg, y_tag):
    m = main_fig(key, left, right, top, bottom)
    h = top + FRAME_H + bottom
    y = ylabel_fig(ylab_w, h, top, bottom, ylab_w + left)
    lg = legend_fig(key, ylab_w + left + FRAME_W + right, leg_h, ylab_w + left, y_leg, y_tag)
    return column(row(y, m), lg)


ga = group("a", 40, 50, 28, 18, 34, 84, -16, -57)
gb = group("b", 38, 46, 16, 18, 34, 84, -16, -57)
gc = group("c", 40, 50, 28, 10, 34, 67, -17, -56)

layout = column(row(ga, gb), row(Spacer(width=222, height=10), gc))

with open("out.html", "w", encoding="utf-8") as fh:
    fh.write(file_html(layout, INLINE, title="DOS"))
